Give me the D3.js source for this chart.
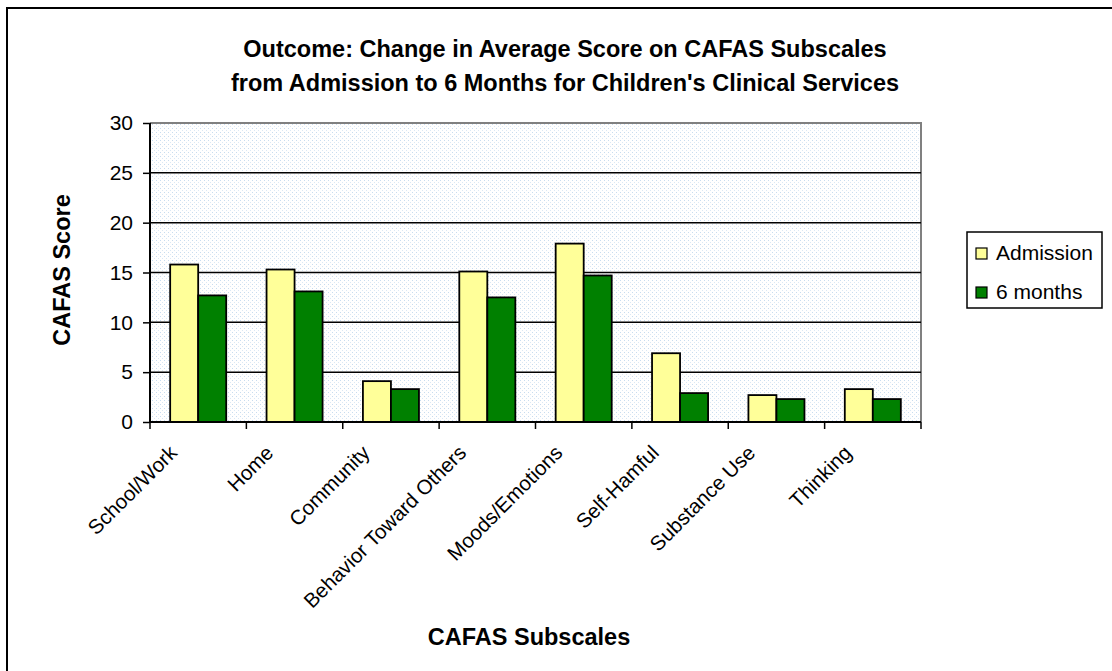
<!DOCTYPE html>
<html><head><meta charset="utf-8">
<script src="https://cdn.jsdelivr.net/npm/d3@7"></script>
<style>body{margin:0;background:#fff}svg{display:block}text{font-family:"Liberation Sans",Arial,sans-serif}</style>
</head><body>
<script>
const categories = ["School/Work","Home","Community","Behavior Toward Others","Moods/Emotions","Self-Hamful","Substance Use","Thinking"];
const seriesNames = ["Admission","6 months"];
const admission = [15.8,15.3,4.1,15.1,17.9,6.9,2.7,3.3];
const sixMonths = [12.7,13.1,3.3,12.5,14.7,2.9,2.3,2.3];
const yTicks = [0,5,10,15,20,25,30];
const colors = ["#FFFF99","#008000"];

const W=1112,H=671;
const svg=d3.select("body").append("svg").attr("width",W).attr("height",H);
const defs=svg.append("defs");
const pat=defs.append("pattern").attr("id","dots").attr("width",4).attr("height",4).attr("patternUnits","userSpaceOnUse");
pat.append("rect").attr("width",4).attr("height",4).attr("fill","#fff");
pat.append("rect").attr("x",0).attr("y",0).attr("width",1).attr("height",1).attr("fill","#c8dcef");
pat.append("rect").attr("x",2).attr("y",2).attr("width",1).attr("height",1).attr("fill","#dbe8f4");

// outer border
svg.append("rect").attr("x",7).attr("y",8).attr("width",W+20).attr("height",H+20).attr("fill","none").attr("stroke","#000").attr("stroke-width",2);

const L=150,R=921,T=123,B=422;
const x=d3.scaleBand().domain(categories).range([L,R]).paddingInner(0).paddingOuter(0);
const x1=d3.scaleBand().domain(seriesNames).range([0,x.bandwidth()]).paddingInner(0).paddingOuter(0.72);
const y=d3.scaleLinear().domain([0,30]).range([B,T]);

svg.append("rect").attr("x",L).attr("y",T).attr("width",R-L).attr("height",B-T).attr("fill","url(#dots)");
svg.append("path").attr("d",`M${L},${T}H${R}V${B}`).attr("fill","none").attr("stroke","#808080").attr("stroke-width",2);
svg.append("g").selectAll("line").data(yTicks.filter(d=>d>0&&d<30)).join("line")
 .attr("x1",L).attr("x2",R).attr("y1",d=>y(d)).attr("y2",d=>y(d)).attr("stroke","#000").attr("stroke-width",1.5);

// bars
const data=categories.map((c,i)=>({c,vals:[admission[i],sixMonths[i]]}));
const g=svg.append("g").selectAll("g").data(data).join("g").attr("transform",d=>`translate(${x(d.c)},0)`);
g.selectAll("rect").data(d=>d.vals.map((v,j)=>({v,s:seriesNames[j],j}))).join("rect")
 .attr("x",d=>x1(d.s)).attr("width",x1.bandwidth()).attr("y",d=>y(d.v)).attr("height",d=>B-y(d.v))
 .attr("fill",d=>colors[d.j]).attr("stroke","#000").attr("stroke-width",1.8);

// y axis
const ya=svg.append("g").attr("transform",`translate(${L},0)`).call(d3.axisLeft(y).tickValues(yTicks).tickSize(7).tickPadding(10));
ya.select(".domain").attr("stroke","#000").attr("stroke-width",2).attr("d",`M0,${B}V${T}`);
ya.selectAll(".tick line").attr("stroke","#000").attr("stroke-width",1.5);
ya.selectAll(".tick text").attr("font-size",21).attr("fill","#000").attr("font-family","Liberation Sans, Arial, sans-serif");

// x axis
const xa=svg.append("g").attr("transform",`translate(0,${B})`);
xa.append("line").attr("x1",L).attr("x2",R).attr("y1",0).attr("y2",0).attr("stroke","#000").attr("stroke-width",2);
const edges=categories.map(c=>x(c)).concat([R]);
xa.selectAll("line.tk").data(edges).join("line").attr("class","tk").attr("x1",d=>d).attr("x2",d=>d).attr("y1",0).attr("y2",7).attr("stroke","#000").attr("stroke-width",1.5);
xa.selectAll("text").data(categories).join("text")
 .attr("transform",d=>`translate(${x(d)+x.bandwidth()/2-25},${27}) rotate(-45)`)
 .attr("text-anchor","end").attr("dy","0.35em").attr("font-size",20.5).attr("fill","#000").text(d=>d);

// titles
svg.append("text").attr("x",565).attr("y",57).attr("text-anchor","middle").attr("font-size",23.5).attr("font-weight","bold").text("Outcome: Change in Average Score on CAFAS Subscales");
svg.append("text").attr("x",565).attr("y",91).attr("text-anchor","middle").attr("font-size",23.5).attr("font-weight","bold").text("from Admission to 6 Months for Children's Clinical Services");
svg.append("text").attr("transform","translate(70,270) rotate(-90)").attr("text-anchor","middle").attr("font-size",23.5).attr("font-weight","bold").text("CAFAS Score");
svg.append("text").attr("x",529).attr("y",645).attr("text-anchor","middle").attr("font-size",23.5).attr("font-weight","bold").text("CAFAS Subscales");

// legend
const lg=svg.append("g");
lg.append("rect").attr("x",967).attr("y",232).attr("width",135).attr("height",76).attr("fill","#fff").attr("stroke","#000").attr("stroke-width",1.5);
const li=lg.selectAll("g").data(seriesNames).join("g").attr("transform",(d,i)=>`translate(976,${248+i*39})`);
li.append("rect").attr("width",11).attr("height",11).attr("fill",(d,i)=>colors[i]).attr("stroke","#000").attr("stroke-width",1.2);
li.append("text").attr("x",20).attr("y",12).attr("font-size",21).text(d=>d);
</script>
</body></html>
